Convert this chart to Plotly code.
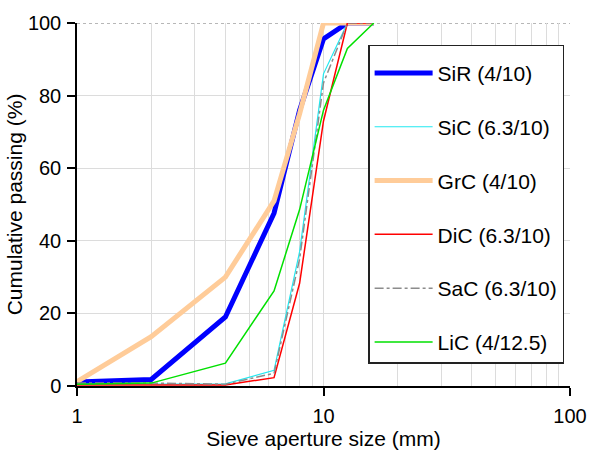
import plotly.graph_objects as go

sieve = [1, 2, 4, 6.3, 8, 10, 12.5, 16]

names = ["SiR (4/10)", "SiC (6.3/10)", "GrC (4/10)", "DiC (6.3/10)", "SaC (6.3/10)", "LiC (4/12.5)"]
sir = [1.1, 1.8, 19, 47.6, 76, 95.6, 100, 100]
sic = [0.5, 0.5, 0.6, 4.3, 37, 86, 100, 100]
grc = [1.2, 13.6, 30, 51, 75, 100, 100, 100]
dic = [0.3, 0.3, 0.3, 2.3, 28.3, 73, 100, 100]
sac = [0.8, 0.8, 0.5, 3.5, 35, 83.5, 100, 100]
lic = [0.5, 0.8, 6.3, 26.2, 48.6, 76, 93, 100]

series = [sir, sic, grc, dic, sac, lic]
colors = ["#0000FF", "#22E8F0", "#FFCC99", "#FF0000", "#8C8C8C", "#00E000"]
widths = [5, 1.2, 5, 1.5, 1.5, 1.5]
dashes = ["solid", "solid", "solid", "solid", "dashdot", "solid"]

x_major = [1, 10, 100]
x_minor = [2, 3, 4, 5, 6, 7, 8, 9, 20, 30, 40, 50, 60, 70, 80, 90]
y_ticks = [0, 20, 40, 60, 80, 100]

FONT = "Liberation Sans, Arial, sans-serif"
GRID = "#DCDCDC"

fig = go.Figure()
for i, (nm, vals) in enumerate(zip(names, series)):
    fig.add_trace(go.Scatter(
        x=sieve, y=vals, mode="lines", name=nm, legendgroup=nm,
        line=dict(color=colors[i], width=widths[i], dash=dashes[i]),
    ))

fig.update_layout(
    width=589, height=450,
    margin=dict(l=77, r=19, t=23, b=64),
    paper_bgcolor="white", plot_bgcolor="white",
    font=dict(family=FONT, size=20, color="black"),
    showlegend=True,
    legend=dict(
        x=0.5905, y=0.94, xanchor="left", yanchor="top",
        bordercolor="#222222", borderwidth=1.5, bgcolor="white",
        font=dict(family=FONT, size=21, color="black"),
        title=dict(text=" ", font=dict(size=5)),
        tracegroupgap=23.5, itemwidth=58,
    ),
)
fig.update_xaxes(
    type="log", range=[0, 2], automargin=False,
    tickvals=x_major, ticktext=[str(v) for v in x_major],
    ticks="outside", ticklen=8, tickwidth=1.5, tickcolor="black",
    showline=True, linecolor="black", linewidth=1.5,
    showgrid=True, gridcolor=GRID, gridwidth=1,
    minor=dict(tickvals=x_minor, showgrid=True, gridcolor=GRID, gridwidth=1, ticks=""),
    zeroline=False, ticklabelstandoff=3,
    tickfont=dict(size=20),
    title=dict(text="Sieve aperture size (mm)", font=dict(size=21), standoff=3),
)
fig.update_yaxes(
    range=[0, 100], tickvals=y_ticks, automargin=False,
    ticks="outside", ticklen=8, tickwidth=1.5, tickcolor="black",
    showline=True, linecolor="black", linewidth=1.5,
    showgrid=True, gridcolor=GRID, gridwidth=1,
    zeroline=False, ticklabelstandoff=2,
    tickfont=dict(size=20),
    title=dict(text="Cumulative passing (%)", font=dict(size=21), standoff=0),
)
fig.add_shape(type="line", xref="paper", yref="y", x0=0, x1=1, y0=100, y1=100,
              line=dict(color="#A0A0A0", width=1.5, dash="dot"), layer="below")

fig.write_html(
    "out.html",
    config={"displayModeBar": False},
    post_script="document.body.style.margin='0';document.body.style.overflow='hidden';",
)
